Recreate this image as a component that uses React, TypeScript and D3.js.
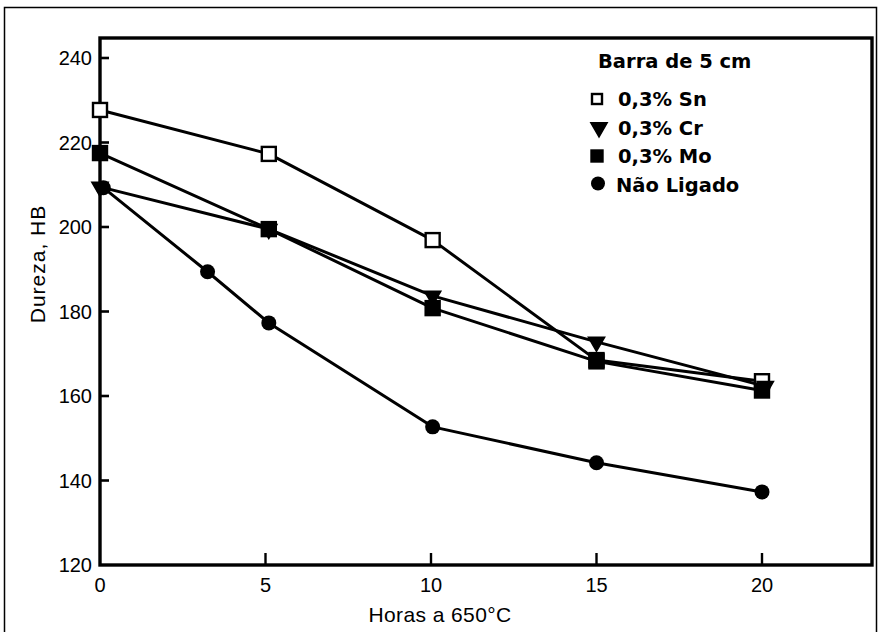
import React from 'react';
import * as d3 from 'd3';

// Dureza vs. horas a 650°C, barra de 5 cm
const snHours = [0, 5.1, 10.05, 15, 20];
const snHB = [227.7, 217.3, 196.9, 168.5, 163.5];

const crHours = [0, 5.1, 10.05, 15, 20.1];
const crHB = [209.5, 199.5, 183.7, 172.8, 162.3];

const moHours = [0, 5.1, 10.05, 15, 20];
const moHB = [217.5, 199.5, 180.8, 168.2, 161.3];

const naoHours = [0.1, 3.25, 5.1, 10.05, 15, 20];
const naoHB = [209.3, 189.4, 177.3, 152.7, 144.2, 137.3];

const xTicks = [0, 5, 10, 15, 20];
const yTicks = [120, 140, 160, 180, 200, 220, 240];

const legendItems = ['0,3% Sn', '0,3% Cr', '0,3% Mo', 'Não Ligado'];

const W = 880, H = 632;

const App = () => {
  const x = d3.scaleLinear().domain([0, 20]).range([100, 762]);
  const y = d3.scaleLinear().domain([120, 240]).range([565, 58]);
  const xMax = x.invert(872);
  const yMax = y.invert(38);

  const line = d3.line<[number, number]>().x(d => x(d[0])).y(d => y(d[1]));
  const zip = (a: number[], b: number[]) => a.map((v, i) => [v, b[i]] as [number, number]);

  const sn = zip(snHours, snHB);
  const cr = zip(crHours, crHB);
  const mo = zip(moHours, moHB);
  const nao = zip(naoHours, naoHB);

  const tri = d3.symbol().type(d3.symbolTriangle).size(115)();
  const tickFont = '"Liberation Sans", Arial, sans-serif';
  const font = '"Liberation Sans", Arial, sans-serif';
  const legendFont = '"DejaVu Sans", "Liberation Sans", Arial, sans-serif';

  const square = (px: number, py: number, filled: boolean, key: string, s = 13) => (
    <rect key={key} x={px - s / 2} y={py - s / 2} width={s} height={s}
      fill={filled ? '#000' : '#fff'} stroke="#000" strokeWidth={2.4} />
  );
  const triangle = (px: number, py: number, key: string) => (
    <path key={key} d={tri || ''} transform={`translate(${px},${py}) rotate(180)`} fill="#000" stroke="#000" strokeWidth={1.5} />
  );
  const circle = (px: number, py: number, key: string, r = 7.5) => (
    <circle key={key} cx={px} cy={py} r={r} fill="#000" />
  );

  const lineStyle = { fill: 'none', stroke: '#000', strokeWidth: 3, strokeLinejoin: 'round' as const };

  return (
    <svg width={W} height={H} style={{ position: 'absolute', left: 0, top: 0, background: '#fff' }}>
      {/* outer frame */}
      <rect x={4.5} y={7.5} width={872} height={640} fill="none" stroke="#000" strokeWidth={1.5} />

      {/* plot frame */}
      <rect x={x(0)} y={y(yMax)} width={x(xMax) - x(0)} height={y(120) - y(yMax)}
        fill="none" stroke="#000" strokeWidth={3.4} />

      {/* y ticks */}
      {yTicks.map(t => (
        <g key={'yt' + t}>
          {t > 120 && <line x1={x(0)} x2={x(0) + 9} y1={y(t)} y2={y(t)} stroke="#000" strokeWidth={2.6} />}
          <text x={x(0) - 8} y={y(t) + 7} textAnchor="end" fontFamily={tickFont} fontSize={20} fontWeight={500} fill="#000">{t}</text>
        </g>
      ))}

      {/* x ticks */}
      {xTicks.map(t => (
        <g key={'xt' + t}>
          {t > 0 && <line x1={x(t)} x2={x(t)} y1={y(120)} y2={y(120) - 12} stroke="#000" strokeWidth={2.4} />}
          <text x={x(t)} y={y(120) + 27} textAnchor="middle" fontFamily={tickFont} fontSize={20} fontWeight={500} fill="#000">{t}</text>
        </g>
      ))}

      {/* axis titles */}
      <text x={440} y={622} textAnchor="middle" fontFamily={font} fontSize={21} letterSpacing={0.4} fill="#000">Horas a 650°C</text>
      <text transform="translate(45,264) rotate(-90)" textAnchor="middle" fontFamily={font} fontSize={21} letterSpacing={1} fill="#000">Dureza, HB</text>

      {/* lines */}
      <path d={line(sn) || ''} style={lineStyle} />
      <path d={line(cr) || ''} style={lineStyle} />
      <path d={line(mo) || ''} style={lineStyle} />
      <path d={line(nao) || ''} style={lineStyle} />

      {/* markers */}
      {sn.map((d, i) => square(x(d[0]), y(d[1]), false, 'sn' + i, 14))}
      {cr.map((d, i) => triangle(x(d[0]), y(d[1]), 'cr' + i))}
      {mo.map((d, i) => square(x(d[0]), y(d[1]), true, 'mo' + i, 14))}
      {nao.map((d, i) => circle(x(d[0]), y(d[1]), 'na' + i))}

      {/* legend */}
      <text x={598} y={68} fontFamily={legendFont} fontWeight="bold" fontSize={19.5} fill="#000">Barra de 5 cm</text>
      {legendItems.map((name, i) => {
        const ly = 99 + i * 28.5;
        const mx = 597;
        let mark;
        if (i === 0) mark = square(mx, ly, false, 'lg0', 10);
        else if (i === 1) mark = triangle(mx + 2, ly, 'lg1');
        else if (i === 2) mark = square(mx, ly, true, 'lg2', 11);
        else mark = circle(mx + 1, ly - 1, 'lg3', 7);
        return (
          <g key={'lg' + i}>
            {mark}
            <text x={i === 3 ? 616 : 618} y={ly + 7} fontFamily={legendFont} fontWeight="bold" fontSize={19.5} fill="#000">{name}</text>
          </g>
        );
      })}
    </svg>
  );
};

export default App;
